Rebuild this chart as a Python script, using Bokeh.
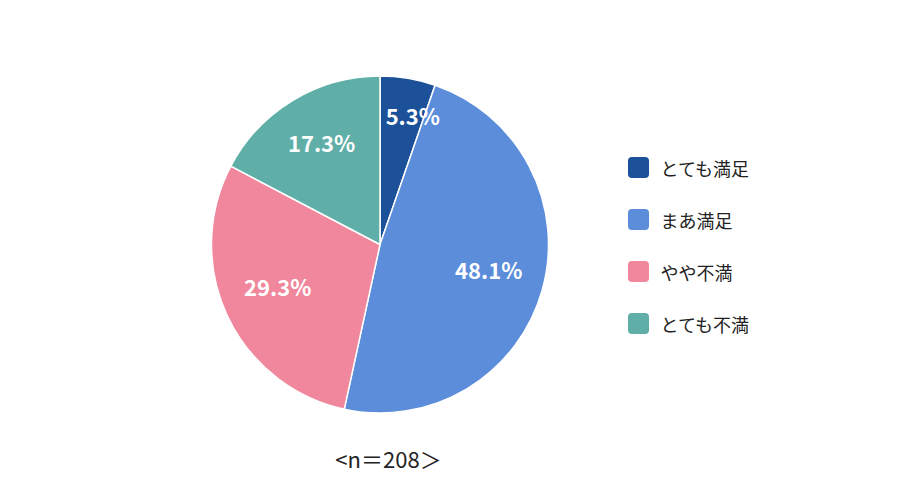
import numpy as np
from bokeh.plotting import figure
from bokeh.models import Range1d, ColumnDataSource
from bokeh.core.properties import value
from bokeh.embed import file_html
from bokeh.resources import INLINE

categories = ["とても満足", "まあ満足", "やや不満", "とても不満"]
percents = [5.3, 48.1, 29.3, 17.3]
colors = ["#1C5199", "#5B8DDB", "#F0879C", "#5FAEA8"]
note = "<n＝208＞"

W, H = 884, 487
FONT = "Noto Sans CJK JP"

p = figure(width=W, height=H, x_range=Range1d(0, W), y_range=Range1d(0, H),
           output_backend="svg", toolbar_location=None, min_border=0)
p.axis.visible = False
p.grid.visible = False
p.outline_line_color = None
p.background_fill_color = "white"
p.border_fill_color = "white"

def sx(x):
    return x

def sy(y):
    return H - y

cx, cy, R = sx(379.5), sy(244), 168.5

vals = np.array(percents) / sum(percents)
cum = np.concatenate([[0], np.cumsum(vals)])
start = np.pi / 2 - cum[:-1] * 2 * np.pi
end = np.pi / 2 - cum[1:] * 2 * np.pi

src = ColumnDataSource(dict(start=start, end=end, color=colors))
p.wedge(x=cx, y=cy, radius=R, start_angle="start", end_angle="end",
        direction="clock", fill_color="color", line_color="white",
        line_width=1.5, source=src)

# percentage labels
mid = (cum[:-1] + cum[1:]) / 2 * 2 * np.pi
small = vals < 0.1
rf = np.where(small, 0.78, 0.67)
lx = cx + rf * R * np.sin(mid) + np.where(small, 11, 0)
ly = cy + rf * R * np.cos(mid) + np.where(small, 0, 6)
labels = [f"{v:.1f}%" for v in percents]
p.text(x=lx, y=ly, text=labels, text_color="white", text_font=value(FONT),
       text_font_size="22px", text_font_style="bold", text_align="center",
       text_baseline="middle")

# legend
leg_y = [sy(167 + 52 * i) for i in range(len(categories))]
p.rect(x=[sx(638)] * 4, y=leg_y, width=21, height=21, fill_color=colors,
       line_color=None, border_radius=4)
p.text(x=[sx(660)] * 4, y=leg_y, text=categories, text_color="#222222",
       text_font=value(FONT), text_font_size="18px", text_align="left",
       text_baseline="middle")

# n note
p.text(x=[sx(388)], y=[sy(457)], text=[note], text_color="#222222",
       text_font=value(FONT), text_font_size="22px", text_align="center",
       text_baseline="middle")

open("out.html", "w").write(file_html(p, INLINE))
